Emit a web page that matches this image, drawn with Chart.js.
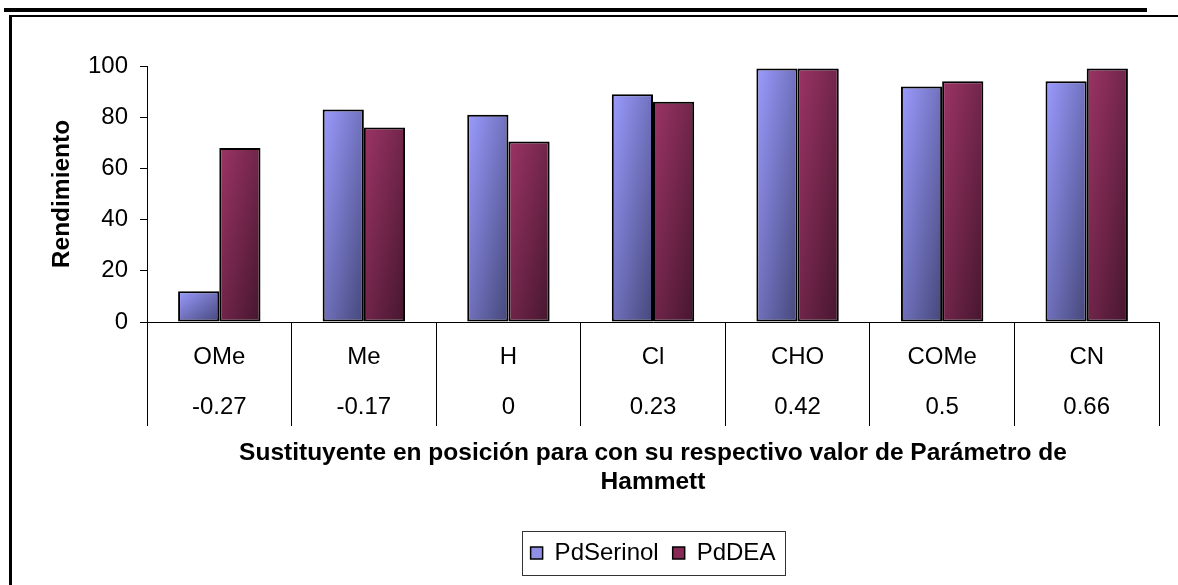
<!DOCTYPE html>
<html>
<head>
<meta charset="utf-8">
<script src="https://cdn.jsdelivr.net/npm/chart.js@4.4.1/dist/chart.umd.min.js"></script>
<style>
  html, body { margin: 0; padding: 0; background: #fff; }
  body { width: 1178px; height: 585px; position: relative; overflow: hidden; }
  .rule-thick { position: absolute; left: 4px; top: 8px; width: 1143px; height: 4px; background: #000; }
  .frame { position: absolute; left: 9px; top: 15px; right: 0; bottom: 0; border-top: 2px solid #000; border-left: 3px solid #000; }
  #wrap { position: absolute; left: 12px; top: 17px; width: 1166px; height: 568px; }
</style>
</head>
<body>
<div class="rule-thick"></div>
<div class="frame"></div>
<div id="wrap"><canvas id="chart"></canvas></div>
<script>
const substituents = ["OMe", "Me", "H", "Cl", "CHO", "COMe", "CN"];
const hammettValues = ["-0.27", "-0.17", "0", "0.23", "0.42", "0.5", "0.66"];
const pdSerinol = [12, 83, 81, 89, 99, 92, 94];
const pdDEA = [68, 76, 70.5, 86, 99, 94, 99];
const yTicks = [0, 20, 40, 60, 80, 100];

const FONT = "'Liberation Sans', Arial, sans-serif";
const GROUP_PCT = 0.57;

// diagonal shading per bar: light at top-left, dark at bottom-right
function barFill(ctx, light, dark) {
  const chart = ctx.chart;
  const xs = chart.scales.x, ys = chart.scales.y;
  if (!xs || !ys || ctx.dataIndex === undefined) return light;
  const value = ctx.dataset.data[ctx.dataIndex];
  const cx = xs.getPixelForValue(ctx.dataIndex);
  const bw = xs.width / substituents.length * GROUP_PCT / 2;
  const left = cx - bw + ctx.datasetIndex * bw;
  const top = ys.getPixelForValue(value);
  const h = Math.max(1, ys.getPixelForValue(0) - top);
  const gx = 1 / (2 * bw), gy = 1 / (2 * h);
  const g2 = gx * gx + gy * gy;
  const grad = chart.ctx.createLinearGradient(left, top, left + gx / g2, top + gy / g2);
  grad.addColorStop(0, light);
  grad.addColorStop(1, dark);
  return grad;
}

// border drawn around the legend entries
const legendFrame = {
  id: "legendFrame",
  afterDraw(chart) {
    const boxes = chart.legend && chart.legend.legendHitBoxes;
    if (!boxes || !boxes.length) return;
    const l = boxes[0].left - 9;
    const r = boxes[boxes.length - 1].left + boxes[boxes.length - 1].width + 9;
    const t = boxes[0].top - 10;
    const b = boxes[0].top + boxes[0].height + 10;
    const c = chart.ctx;
    c.save();
    c.strokeStyle = "#333";
    c.lineWidth = 1;
    c.strokeRect(Math.round(l) + 0.5, Math.round(t) + 0.5, Math.round(r - l), Math.round(b - t));
    c.restore();
  }
};

new Chart(document.getElementById("chart"), {
  type: "bar",
  data: {
    labels: substituents.map((s, i) => [s, hammettValues[i]]),
    datasets: [
      {
        label: "PdSerinol",
        data: pdSerinol,
        backgroundColor: ctx => barFill(ctx, "#9b9bff", "#45477a"),
        legendColor: "#8f8fe6",
        borderColor: "#000",
        borderWidth: 2,
        borderSkipped: false,
        categoryPercentage: GROUP_PCT,
        barPercentage: 1
      },
      {
        label: "PdDEA",
        data: pdDEA,
        backgroundColor: ctx => barFill(ctx, "#9c3466", "#46162e"),
        legendColor: "#862a55",
        borderColor: "#000",
        borderWidth: 2,
        borderSkipped: false,
        categoryPercentage: GROUP_PCT,
        barPercentage: 1
      }
    ]
  },
  options: {
    responsive: true,
    maintainAspectRatio: false,
    animation: false,
    layout: { padding: { top: 49, right: 19, bottom: 10, left: 0 } },
    plugins: {
      tooltip: { enabled: false },
      legend: {
        position: "bottom",
        fullSize: false,
        labels: {
          color: "#000",
          font: { family: FONT, size: 24 },
          boxWidth: 12,
          boxHeight: 12,
          padding: 14,
          generateLabels(chart) {
            return chart.data.datasets.map((ds, i) => ({
              text: ds.label,
              fillStyle: ds.legendColor,
              strokeStyle: "#000",
              lineWidth: 1.5,
              hidden: false,
              datasetIndex: i
            }));
          }
        }
      }
    },
    scales: {
      x: {
        offset: true,
        afterFit(scale) { scale.height = 205; },
        border: { color: "#000", width: 1 },
        grid: {
          offset: true,
          drawOnChartArea: false,
          tickLength: 104,
          color: "#000",
          lineWidth: 1
        },
        ticks: {
          autoSkip: false,
          maxRotation: 0,
          padding: -94,
          color: "#000",
          font: { family: FONT, size: 24, lineHeight: 50 / 24 }
        },
        title: {
          display: true,
          text: ["Sustituyente en posición para con su respectivo valor de Parámetro de", "Hammett"],
          color: "#000",
          font: { family: FONT, size: 24.5, weight: "bold", lineHeight: 29 / 24.5 },
          padding: { top: 0, bottom: 30.5 }
        }
      },
      y: {
        min: 0,
        max: 100,
        afterFit(scale) { scale.width = 135; },
        afterBuildTicks(scale) { scale.ticks = yTicks.map(v => ({ value: v })); },
        border: { color: "#000", width: 1 },
        grid: {
          drawOnChartArea: false,
          tickLength: 7,
          color: "#000"
        },
        ticks: {
          padding: 12,
          color: "#000",
          font: { family: FONT, size: 24 }
        },
        title: {
          display: true,
          text: "Rendimiento",
          color: "#000",
          font: { family: FONT, size: 24.5, weight: "bold", lineHeight: 1.2 },
          padding: { top: 35.3, bottom: 0 }
        }
      }
    }
  },
  plugins: [legendFrame]
});
</script>
</body>
</html>
